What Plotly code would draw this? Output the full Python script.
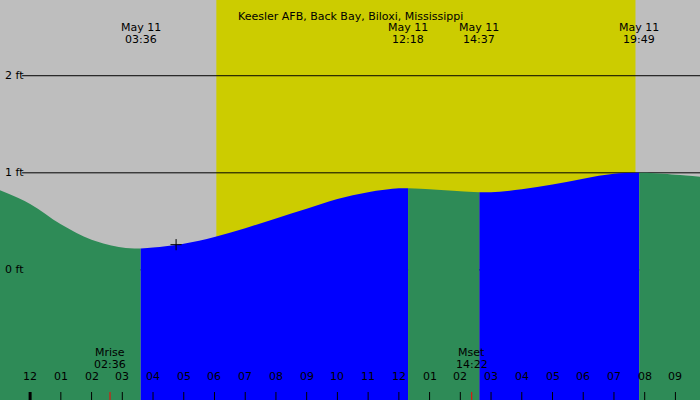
import plotly.graph_objects as go

title = "Keesler AFB, Back Bay, Biloxi, Mississippi"
hours = [-0.98, 0, 1, 2, 3, 3.6, 4, 5, 6, 7, 8, 9, 10, 11, 12, 12.3, 13, 14, 14.62, 15, 16, 17, 18, 19, 19.82, 20, 21, 21.8]
heights = [0.82, 0.68, 0.47, 0.31, 0.23, 0.22, 0.23, 0.27, 0.34, 0.43, 0.53, 0.63, 0.73, 0.80, 0.84, 0.84, 0.83, 0.81, 0.80, 0.80, 0.83, 0.88, 0.94, 0.99, 1.00, 1.00, 0.98, 0.96]
extreme_times = [3.6, 12.3, 14.62, 19.82]
extreme_labels = ["03:36", "12:18", "14:37", "19:49"]
sun_rise, sun_set = 6.06, 19.70
tick_hours = list(range(-1, 22))
tick_labels = ["1", "12", "01", "02", "03", "04", "05", "06", "07", "08", "09", "10", "11",
               "12", "01", "02", "03", "04", "05", "06", "07", "08", "09"]
moon_times = [2.6, 14.37]
moon_names = ["Mrise", "Mset"]
moon_labels = ["02:36", "14:22"]
now_point = (4.75, 0.26)
ft_levels = [0, 1, 2]

X0, X1 = -0.98, 21.8
Y0, Y1 = -1.34, 2.78
GRAY, YEL, GREEN, BLUE = "#bebebe", "#cccc00", "#2e8b57", "#0000ff"
FONT = "DejaVu Sans"

fig = go.Figure()
shapes = [
    dict(type="rect", xref="x", yref="paper", x0=X0, x1=X1, y0=0, y1=1, fillcolor=GRAY, line_width=0, layer="below"),
    dict(type="rect", xref="x", yref="paper", x0=sun_rise, x1=sun_set, y0=0, y1=1, fillcolor=YEL, line_width=0, layer="below"),
]
for lv in ft_levels:
    shapes.append(dict(type="line", xref="x", yref="y", x0=-0.26, x1=X1, y0=lv, y1=lv, line=dict(color="black", width=1), layer="below"))

bounds = [X0] + extreme_times + [X1]
for i in range(len(bounds) - 1):
    a, b = bounds[i], bounds[i + 1]
    xs = [h for h in hours if a <= h <= b]
    ys = [heights[hours.index(h)] for h in xs]
    col = BLUE if i % 2 == 1 else GREEN
    fig.add_trace(go.Scatter(x=[a, b], y=[Y0 - 1, Y0 - 1], mode="lines", line=dict(width=0), hoverinfo="skip"))
    fig.add_trace(go.Scatter(x=xs, y=ys, fill="tonexty", fillcolor=col, mode="lines",
                             line=dict(width=0, color=col, shape="spline"), hoverinfo="skip"))

fig.add_trace(go.Scatter(x=[now_point[0]], y=[now_point[1]], mode="markers",
                         marker=dict(symbol="cross-thin", size=8, line=dict(color="black", width=1))))

ann = [dict(x=0.5, xref="paper", y=1 - 8/400, yref="paper", text=title, showarrow=False)]
for t, l in zip(extreme_times, extreme_labels):
    ann.append(dict(x=t, xref="x", y=1 - 19/400, yref="paper", text="May 11", showarrow=False))
    ann.append(dict(x=t, xref="x", y=1 - 31/400, yref="paper", text=l, showarrow=False))
for lv in ft_levels:
    ann.append(dict(x=3/700, xref="paper", y=lv, yref="y", text=f"{lv} ft", showarrow=False, xanchor="left"))
for h, l in zip(tick_hours, tick_labels):
    hx = h if h > X0 else X0 - 0.03
    ann.append(dict(x=hx, xref="x", y=1 - 385/400, yref="paper", text=l, showarrow=False,
                    xanchor="center" if h > X0 else "left"))
    shapes.append(dict(type="line", xref="x", yref="paper", x0=h, x1=h, y0=0, y1=8/400,
                       line=dict(color="black", width=3 if h == 0 else 1)))
for t, n, l in zip(moon_times, moon_names, moon_labels):
    ann.append(dict(x=t, xref="x", y=1 - 361/400, yref="paper", text=n, showarrow=False))
    ann.append(dict(x=t, xref="x", y=1 - 373/400, yref="paper", text=l, showarrow=False))
    shapes.append(dict(type="line", xref="x", yref="paper", x0=t, x1=t, y0=0, y1=8/400,
                       line=dict(color="red", width=1)))

fig.update_layout(
    width=700, height=400, margin=dict(l=0, r=0, t=0, b=0),
    paper_bgcolor=GRAY, plot_bgcolor=GRAY, showlegend=False,
    font=dict(family=FONT, size=11, color="black"),
    xaxis=dict(range=[X0, X1], visible=False, fixedrange=True),
    yaxis=dict(range=[Y0, Y1], visible=False, fixedrange=True),
    annotations=ann, shapes=shapes,
)
fig.write_html("out.html", config={"displayModeBar": False},
               post_script="document.body.style.margin='0';")
